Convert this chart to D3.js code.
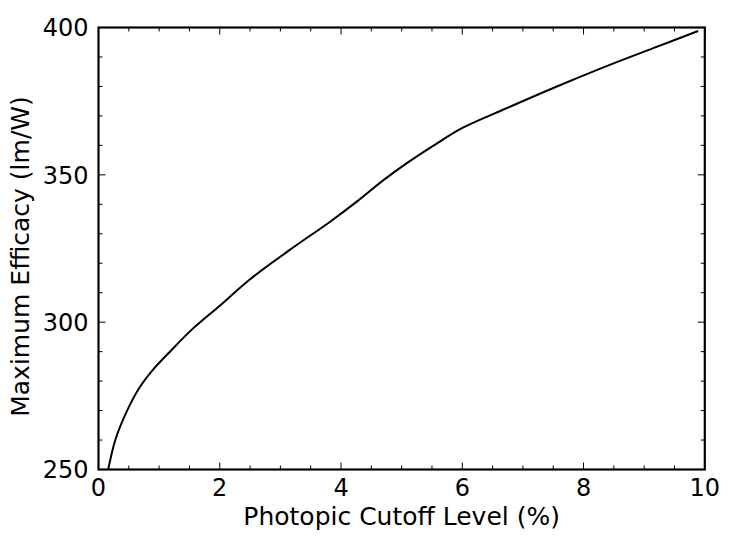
<!DOCTYPE html>
<html>
<head>
<meta charset="utf-8">
<script src="https://cdn.jsdelivr.net/npm/d3@7"></script>
<style>
  html, body { margin: 0; padding: 0; background: #fff; }
  svg { display: block; }
  text { font-family: "DejaVu Sans", sans-serif; fill: #000; }
</style>
</head>
<body>
<svg id="chart" width="750" height="540"></svg>
<script>
// Data
const cutoffLevel = [0.16, 0.28, 0.48, 0.68, 0.90, 1.17, 1.53, 2.02, 2.49, 3.16, 3.82, 4.26, 4.70, 5.08, 5.63, 6.01, 6.73, 7.55, 8.38, 9.15, 9.89];
const maxEfficacy = [250.0, 260.2, 270.3, 277.9, 283.9, 289.8, 297.3, 305.9, 314.4, 324.6, 334.1, 340.9, 348.2, 353.9, 361.3, 366.0, 372.6, 379.9, 386.9, 393.0, 398.8];
const xTicks = [0, 2, 4, 6, 8, 10];
const yTicks = [250, 300, 350, 400];
const xMinorTicks = d3.range(0, 10.001, 0.5);
const yMinorTicks = d3.range(250, 400.001, 10);
const xLabel = "Photopic Cutoff Level (%)";
const yLabel = "Maximum Efficacy (lm/W)";

const margin = { left: 98.5, right: 750 - 704.8, top: 27.5, bottom: 540 - 469.5 };
const W = 750, H = 540;
const x = d3.scaleLinear().domain([0, 10]).range([margin.left, W - margin.right]);
const y = d3.scaleLinear().domain([250, 400]).range([H - margin.bottom, margin.top]);

const svg = d3.select("#chart");
const x0 = x.range()[0], x1 = x.range()[1];
const y0 = y.range()[0], y1 = y.range()[1];

svg.append("defs").append("clipPath").attr("id", "clip")
  .append("rect").attr("x", x0).attr("y", y1).attr("width", x1 - x0).attr("height", y0 - y1);

const data = cutoffLevel.map((d, i) => [d, maxEfficacy[i]]);
const line = d3.line().x(d => x(d[0])).y(d => y(d[1])).curve(d3.curveCatmullRom.alpha(0.5));
svg.append("path").datum(data)
  .attr("clip-path", "url(#clip)")
  .attr("d", line)
  .attr("fill", "none").attr("stroke", "#000").attr("stroke-width", 2);

// Ticks (inside, all four sides)
const majorLen = 7, minorLen = 4;
const tickG = svg.append("g").attr("stroke", "#000").attr("stroke-width", 1);
xMinorTicks.forEach(v => {
  const isMajor = xTicks.some(t => Math.abs(t - v) < 1e-9);
  const len = isMajor ? majorLen : minorLen;
  tickG.append("line").attr("x1", x(v)).attr("x2", x(v)).attr("y1", y0).attr("y2", y0 - len);
  tickG.append("line").attr("x1", x(v)).attr("x2", x(v)).attr("y1", y1).attr("y2", y1 + len);
});
yMinorTicks.forEach(v => {
  const isMajor = yTicks.some(t => Math.abs(t - v) < 1e-9);
  const len = isMajor ? majorLen : minorLen;
  tickG.append("line").attr("y1", y(v)).attr("y2", y(v)).attr("x1", x0).attr("x2", x0 + len);
  tickG.append("line").attr("y1", y(v)).attr("y2", y(v)).attr("x1", x1).attr("x2", x1 - len);
});

// Frame
svg.append("rect").attr("x", x0).attr("y", y1).attr("width", x1 - x0).attr("height", y0 - y1)
  .attr("fill", "none").attr("stroke", "#000").attr("stroke-width", 2.2);

// Tick labels
svg.append("g").selectAll("text").data(xTicks).join("text")
  .attr("x", d => x(d)).attr("y", y0 + 26)
  .attr("text-anchor", "middle").attr("font-size", 24)
  .text(d => d);
svg.append("g").selectAll("text").data(yTicks).join("text")
  .attr("x", x0 - 10).attr("y", d => y(d) + 8.7)
  .attr("text-anchor", "end").attr("font-size", 24)
  .text(d => d);

// Axis labels
svg.append("text").attr("x", (x0 + x1) / 2).attr("y", 525)
  .attr("text-anchor", "middle").attr("font-size", 25).text(xLabel);
svg.append("text").attr("transform", "translate(29,256.5) rotate(-90)")
  .attr("text-anchor", "middle").attr("font-size", 25).text(yLabel);
</script>
</body>
</html>
